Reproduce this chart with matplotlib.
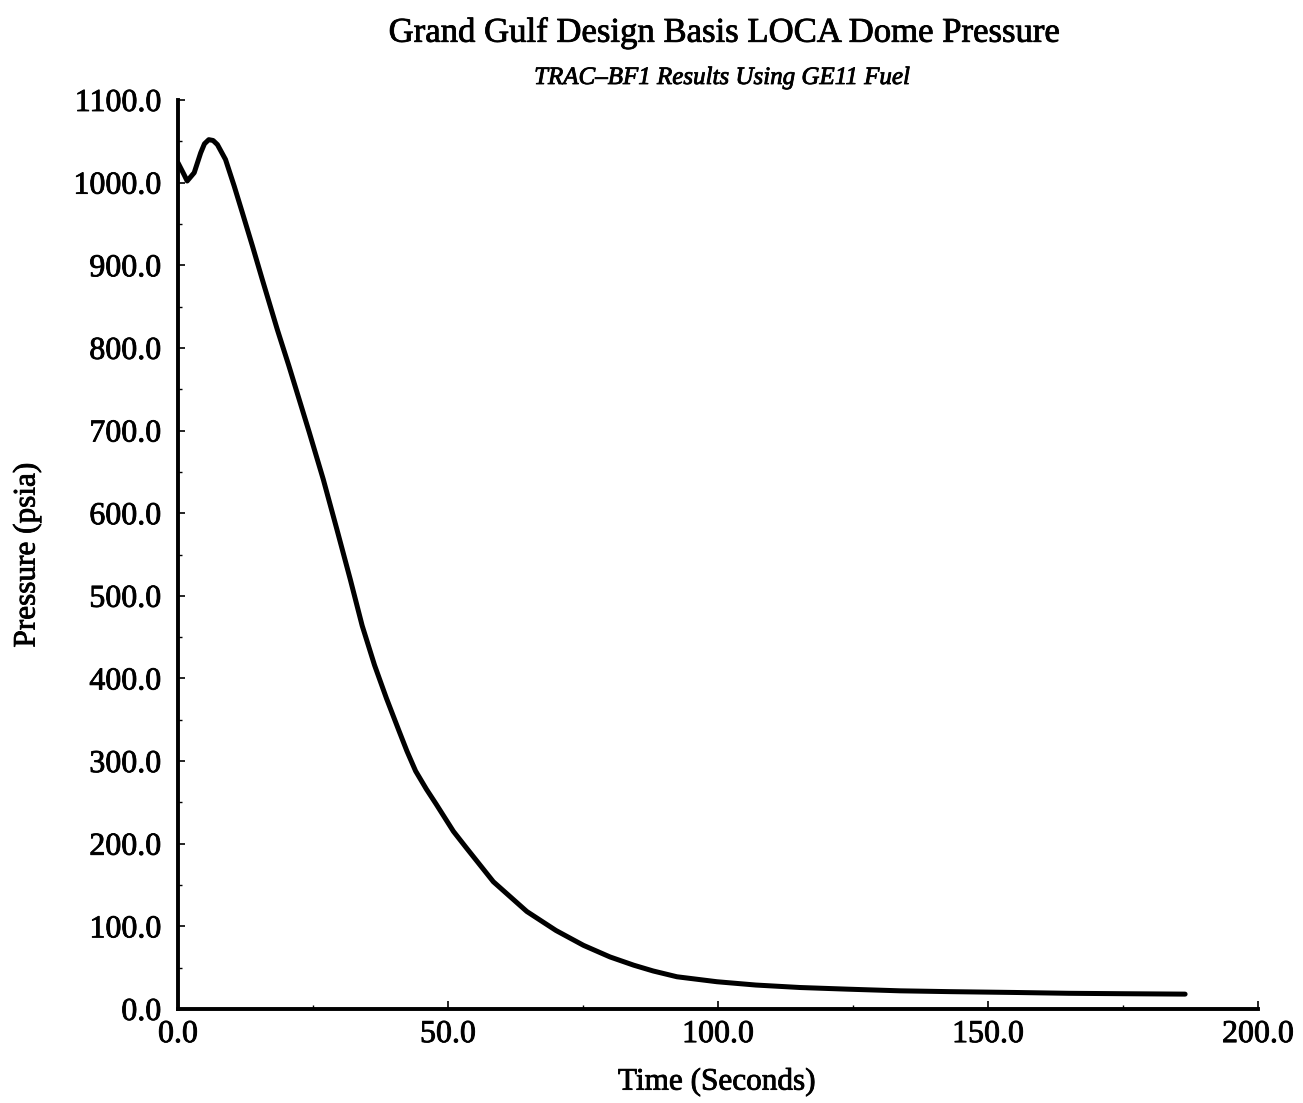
import matplotlib
matplotlib.use("Agg")
import matplotlib.pyplot as plt
import matplotlib.patheffects as pe
from matplotlib.ticker import MultipleLocator, FormatStrFormatter

# Data
time_s = [0.0, 1.1, 1.7, 3.0, 4.2, 4.9, 5.7, 6.5, 7.3, 8.8, 10.4, 11.9, 13.8,
          15.6, 18.4, 20.5, 24.3, 26.9, 29.4, 31.9, 34.1, 36.4, 38.6, 40.9,
          42.4, 44.0, 46.0, 47.8, 51.0, 53.4, 58.4, 64.6, 70.0, 75.1, 80.0,
          84.4, 88.0, 92.4, 99.8, 107.0, 115.2, 124.0, 133.7, 143.0, 155.0,
          165.0, 175.0, 186.5]
pressure_psia = [1024, 1010, 1002, 1012, 1036, 1047, 1052, 1051, 1046, 1028,
                 996, 964, 923, 883, 822, 779, 698, 641, 581, 520, 464, 416,
                 376, 337, 312, 288, 266, 248, 215, 195, 154, 118, 95, 77, 63,
                 53, 46, 39, 33, 29, 26, 24, 22, 21, 20, 19, 18.5, 18]

title = "Grand Gulf Design Basis LOCA Dome Pressure"
subtitle = "TRAC\u2013BF1 Results Using GE11 Fuel"
x_label = "Time (Seconds)"
y_label = "Pressure (psia)"

plt.rcParams['font.family'] = ['Liberation Serif', 'DejaVu Serif']
thick = [pe.withStroke(linewidth=0.6, foreground='black')]

W, H = 1303, 1103
fig = plt.figure(figsize=(W / 100, H / 100), dpi=100)
left, right, bottom, top = 178, 1258, 1009, 100
ax = fig.add_axes([left / W, 1 - bottom / H, (right - left) / W, (bottom - top) / H])

ax.plot(time_s, pressure_psia, color='black', lw=3.6,
        solid_joinstyle='round', solid_capstyle='round')

ax.set_xlim(0, 200)
ax.set_ylim(0, 1100)
for s in ['top', 'right']:
    ax.spines[s].set_visible(False)
for s in ['left', 'bottom']:
    ax.spines[s].set_linewidth(2.8)

ax.xaxis.set_major_locator(MultipleLocator(50))
ax.xaxis.set_minor_locator(MultipleLocator(25))
ax.yaxis.set_major_locator(MultipleLocator(100))
ax.yaxis.set_minor_locator(MultipleLocator(50))
ax.xaxis.set_major_formatter(FormatStrFormatter('%.1f'))
ax.yaxis.set_major_formatter(FormatStrFormatter('%.1f'))

ax.tick_params(axis='x', which='major', direction='in', length=6, width=1.2,
               labelsize=23, pad=8)
ax.tick_params(axis='x', which='minor', direction='in', length=3, width=1.0)
ax.tick_params(axis='y', which='major', direction='in', length=5, width=1.2,
               labelsize=23, pad=12)
ax.tick_params(axis='y', which='minor', direction='in', length=3, width=1.0)
for lab in ax.get_xticklabels() + ax.get_yticklabels():
    lab.set_path_effects(thick)

fig.text(725 / W, 1 - 33 / H, title, ha='center', va='center', fontsize=25,
         path_effects=thick)
fig.text(722 / W, 1 - 78 / H, subtitle, ha='center', va='center',
         fontsize=18, style='italic', path_effects=thick)
fig.text(717 / W, 1 - 1082 / H, x_label, ha='center', va='center', fontsize=22.5,
         path_effects=thick)
fig.text(27 / W, 1 - 555 / H, y_label, ha='center', va='center', fontsize=22.5,
         rotation=90, path_effects=thick)

fig.savefig("out.png", dpi=100, facecolor='white')
